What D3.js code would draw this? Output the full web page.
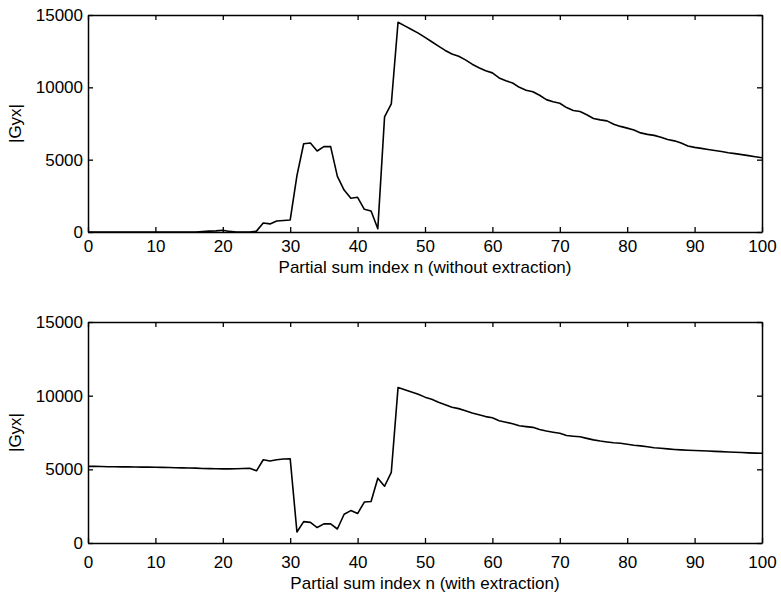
<!DOCTYPE html>
<html>
<head>
<meta charset="utf-8">
<script src="https://cdn.jsdelivr.net/npm/d3@7"></script>
<style>
  html, body { margin: 0; padding: 0; background: #fff; }
  svg { display: block; }
  text { font-family: "Liberation Sans", Arial, Helvetica, sans-serif; fill: #000; }
</style>
</head>
<body>
<script>
// ---- data ----
const nIndex = d3.range(0, 101);            // partial sum index n
const xTicks = [0, 10, 20, 30, 40, 50, 60, 70, 80, 90, 100];
const yTicks = [0, 5000, 10000, 15000];
const yLabel = "|Gyx|";
const topTitle = "Partial sum index n (without extraction)";
const bottomTitle = "Partial sum index n (with extraction)";

const withoutExtraction = [
  0, 0, 0, 0, 0, 0, 0, 0, 0, 0,
  0, 0, 0, 0, 0, 0, 0, 30, 60, 80,
  120, 40, 0, 0, 0, 60, 620, 560, 760, 800,
  830, 3900, 6100, 6150, 5600, 5900, 5900, 3850, 2900, 2330,
  2400, 1570, 1450, 230, 7950, 8850, 14500, 14250, 14000, 13750,
  13450, 13150, 12850, 12550, 12300, 12150, 11900, 11600, 11350, 11150,
  11000, 10650, 10450, 10300, 10000, 9800, 9700, 9450, 9150, 9000,
  8900, 8600, 8400, 8330, 8100, 7850, 7750, 7680, 7450, 7300,
  7180, 7050, 6850, 6750, 6680, 6550, 6400, 6300, 6150, 5950,
  5850, 5780, 5700, 5630, 5560, 5480, 5420, 5350, 5280, 5200,
  5130
];

const withExtraction = [
  5200, 5200, 5190, 5180, 5180, 5170, 5170, 5160, 5150, 5150,
  5140, 5130, 5120, 5110, 5100, 5090, 5080, 5060, 5050, 5040,
  5030, 5030, 5040, 5060, 5070, 4900, 5650, 5570, 5650, 5700,
  5720, 750, 1450, 1400, 1050, 1300, 1300, 950, 1950, 2200,
  2000, 2780, 2820, 4400, 3850, 4800, 10550, 10400, 10250, 10100,
  9900, 9750, 9550, 9380, 9220, 9120, 8980, 8820, 8700, 8580,
  8500, 8300, 8200, 8100, 7960, 7900, 7850, 7700, 7600, 7520,
  7450, 7300, 7250, 7210, 7100, 7000, 6920, 6860, 6800, 6770,
  6700, 6630, 6590, 6530, 6470, 6430, 6390, 6350, 6320, 6300,
  6280, 6260, 6240, 6220, 6200, 6180, 6160, 6140, 6120, 6100,
  6090
];

// ---- layout ----
const W = 781, H = 598;
const FONT = 17;
const panels = [
  { values: withoutExtraction, title: topTitle, top: 15, bottom: 232, pad: 8, titleY: 273 },
  { values: withExtraction, title: bottomTitle, top: 322, bottom: 543, pad: 13, titleY: 589 }
];
const left = 88, right = 762;

const svg = d3.select("body").append("svg")
  .attr("width", W).attr("height", H);

panels.forEach(p => {
  const x = d3.scaleLinear().domain([0, 100]).range([left, right]);
  const y = d3.scaleLinear().domain([0, 15000]).range([p.bottom, p.top]);
  const g = svg.append("g");

  // curve
  const line = d3.line().x((d, i) => x(nIndex[i])).y(d => y(d));
  g.append("path")
    .datum(p.values)
    .attr("d", line)
    .attr("fill", "none")
    .attr("stroke", "#000")
    .attr("stroke-width", 1.6)
    .attr("stroke-linejoin", "round");

  // axes (MATLAB style, inward ticks on all sides)
  const styleAxis = sel => {
    sel.select(".domain").attr("stroke", "#000").attr("stroke-width", 1.5);
    sel.selectAll(".tick line").attr("stroke", "#000").attr("stroke-width", 1.3);
    sel.selectAll(".tick text").style("font-size", FONT + "px")
      .style("font-family", '"Liberation Sans", Arial, sans-serif');
  };

  g.append("g").attr("transform", `translate(0,${p.bottom})`)
    .call(d3.axisBottom(x).tickValues(xTicks).tickSize(-5).tickSizeOuter(0).tickPadding(p.pad).tickFormat(d3.format("d")))
    .call(styleAxis);
  g.append("g").attr("transform", `translate(0,${p.top})`)
    .call(d3.axisTop(x).tickValues(xTicks).tickSize(-5).tickSizeOuter(0).tickFormat(""))
    .call(styleAxis);
  g.append("g").attr("transform", `translate(${left},0)`)
    .call(d3.axisLeft(y).tickValues(yTicks).tickSize(-5).tickSizeOuter(0).tickPadding(5).tickFormat(d3.format("d")))
    .call(styleAxis);
  g.append("g").attr("transform", `translate(${right},0)`)
    .call(d3.axisRight(y).tickValues(yTicks).tickSize(-5).tickSizeOuter(0).tickFormat(""))
    .call(styleAxis);

  // titles
  g.append("text")
    .attr("x", (left + right) / 2)
    .attr("y", p.titleY)
    .attr("text-anchor", "middle")
    .style("font-size", FONT + "px")
    .text(p.title);
  g.append("text")
    .attr("transform", `translate(21,${(p.top + p.bottom) / 2}) rotate(-90)`)
    .attr("text-anchor", "middle")
    .style("font-size", FONT + "px")
    .text(yLabel);
});
</script>
</body>
</html>
